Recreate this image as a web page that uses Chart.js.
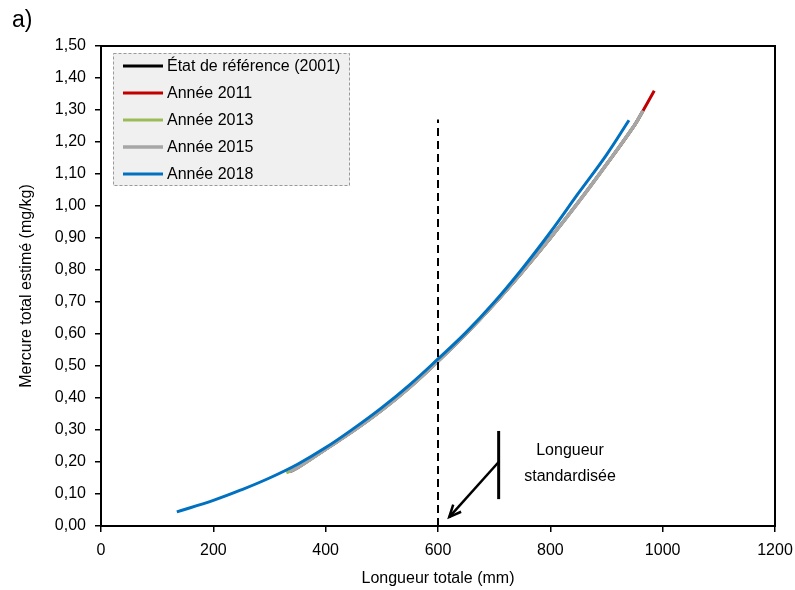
<!DOCTYPE html>
<html>
<head>
<meta charset="utf-8">
<script src="https://cdn.jsdelivr.net/npm/chart.js@4"></script>
<style>
  html, body { margin: 0; padding: 0; background: #fff; }
  #wrap { position: relative; width: 795px; height: 590px; }
  #panel { position: absolute; left: 12px; top: 6px; font: 23px "Liberation Sans", Arial, sans-serif; color: #000; }
</style>
</head>
<body>
<div id="wrap">
  <canvas id="c" width="795" height="590"></canvas>
  <div id="panel">a)</div>
</div>
<script>
// ---- Data ----
const seriesNames = ['État de référence (2001)', 'Année 2011', 'Année 2013', 'Année 2015', 'Année 2018'];
const seriesColors = ['#000000', '#c00000', '#9bbb59', '#a6a6a6', '#0070c0'];

const refX   = [336, 350, 400, 450, 500, 550, 600, 650, 700, 750, 800, 850, 900, 950, 965];
const refY   = [0.170, 0.182, 0.240, 0.298, 0.362, 0.434, 0.515, 0.601, 0.694, 0.794, 0.900, 1.012, 1.130, 1.253, 1.298];

const y2011X = [336, 350, 400, 450, 500, 550, 600, 650, 700, 750, 800, 850, 900, 950, 965, 985];
const y2011Y = [0.170, 0.182, 0.240, 0.298, 0.362, 0.434, 0.515, 0.601, 0.694, 0.794, 0.900, 1.012, 1.130, 1.253, 1.298, 1.360];

const y2013X = [330, 350, 400, 450, 500, 550, 600, 650, 700, 750, 800, 850, 900, 950, 962];
const y2013Y = [0.166, 0.182, 0.240, 0.298, 0.362, 0.434, 0.515, 0.601, 0.694, 0.794, 0.900, 1.012, 1.130, 1.253, 1.288];

const y2015X = [336, 350, 400, 450, 500, 550, 600, 650, 700, 750, 800, 850, 900, 950, 965];
const y2015Y = [0.170, 0.182, 0.240, 0.298, 0.362, 0.434, 0.515, 0.601, 0.694, 0.794, 0.900, 1.012, 1.130, 1.253, 1.298];

const y2018X = [135, 200, 250, 300, 350, 400, 450, 500, 550, 600, 650, 700, 750, 800, 850, 900, 940];
const y2018Y = [0.044, 0.080, 0.113, 0.150, 0.193, 0.245, 0.305, 0.370, 0.442, 0.522, 0.605, 0.699, 0.804, 0.918, 1.040, 1.160, 1.268];

const stdLength = 600;          // standardised length (dashed line)
const stdLineTop = 1.27;
const xTicksMax = 1200, xStep = 200;
const yTicksMax = 1.5, yStep = 0.1;

const noteText = ['Longueur', 'standardisée'];
// annotation anchor positions (data units)
const noteBarX = 708, noteBarY0 = 0.084, noteBarY1 = 0.297, noteBarMid = 0.20;
const noteArrowX = 620, noteArrowY = 0.028;
const noteTextX = 835, noteTextY = [0.235, 0.155];

const FONT = '"Liberation Sans", Arial, sans-serif';
const FS = 16;

function pts(xs, ys) { return xs.map((x, i) => ({ x: x, y: ys[i] })); }
const allX = [refX, y2011X, y2013X, y2015X, y2018X];
const allY = [refY, y2011Y, y2013Y, y2015Y, y2018Y];
const widths = [3, 3, 3, 3.5, 3];
const orders = [5, 4, 3, 2, 1];

const datasets = seriesNames.map((n, i) => ({
  label: n,
  data: pts(allX[i], allY[i]),
  borderColor: seriesColors[i],
  backgroundColor: seriesColors[i],
  borderWidth: widths[i],
  showLine: true,
  pointRadius: 0,
  tension: 0.4,
  order: orders[i]
}));
datasets.push({
  label: '__std',
  data: [{ x: stdLength, y: 0 }, { x: stdLength, y: stdLineTop }],
  borderColor: '#000',
  borderWidth: 2,
  borderDash: [8, 5],
  showLine: true,
  pointRadius: 0,
  order: 0
});

const framePlugin = {
  id: 'frame',
  afterDraw(chart) {
    const { ctx, chartArea: a, scales } = chart;
    ctx.save();
    ctx.strokeStyle = '#000';
    ctx.lineWidth = 2;
    ctx.strokeRect(a.left, a.top, a.right - a.left, a.bottom - a.top);

    // annotation
    const xs = scales.x, ys = scales.y;
    const bx = xs.getPixelForValue(noteBarX);
    ctx.lineWidth = 3;
    ctx.beginPath();
    ctx.moveTo(bx, ys.getPixelForValue(noteBarY0));
    ctx.lineTo(bx, ys.getPixelForValue(noteBarY1));
    ctx.stroke();
    const sx = bx, sy = ys.getPixelForValue(noteBarMid);
    const ex = xs.getPixelForValue(noteArrowX), ey = ys.getPixelForValue(noteArrowY);
    ctx.lineWidth = 2.5;
    ctx.beginPath();
    ctx.moveTo(sx, sy);
    ctx.lineTo(ex, ey);
    ctx.stroke();
    const ang = Math.atan2(ey - sy, ex - sx);
    const hl = 13, hw = 0.42;
    ctx.beginPath();
    ctx.moveTo(ex + hl * Math.cos(ang + Math.PI - hw), ey + hl * Math.sin(ang + Math.PI - hw));
    ctx.lineTo(ex, ey);
    ctx.lineTo(ex + hl * Math.cos(ang + Math.PI + hw), ey + hl * Math.sin(ang + Math.PI + hw));
    ctx.stroke();

    ctx.fillStyle = '#000';
    ctx.font = FS + 'px ' + FONT;
    ctx.textAlign = 'center';
    ctx.textBaseline = 'middle';
    noteText.forEach((t, i) => {
      ctx.fillText(t, xs.getPixelForValue(noteTextX), ys.getPixelForValue(noteTextY[i]));
    });

    // legend box
    const lx = a.left + 12, ly = a.top + 7, lw = 237, lh = 133;
    ctx.fillStyle = '#f0f0f0';
    ctx.fillRect(lx, ly, lw, lh);
    ctx.setLineDash([3, 2]);
    ctx.strokeStyle = '#9a9a9a';
    ctx.lineWidth = 1;
    ctx.strokeRect(lx + 0.5, ly + 0.5, lw - 1, lh - 1);
    ctx.setLineDash([]);
    ctx.textAlign = 'left';
    ctx.font = FS + 'px ' + FONT;
    seriesNames.forEach((n, i) => {
      const yy = ly + 13 + i * 27;
      ctx.strokeStyle = seriesColors[i];
      ctx.lineWidth = widths[i];
      ctx.beginPath();
      ctx.moveTo(lx + 10, yy);
      ctx.lineTo(lx + 50, yy);
      ctx.stroke();
      ctx.fillStyle = '#000';
      ctx.fillText(n, lx + 54, yy + 1);
    });
    ctx.restore();
  }
};

new Chart(document.getElementById('c'), {
  type: 'scatter',
  data: { datasets: datasets },
  plugins: [framePlugin],
  options: {
    responsive: false,
    animation: false,
    layout: { padding: { left: 0, right: 20, top: 46, bottom: 0 } },
    plugins: { legend: { display: false }, tooltip: { enabled: false } },
    scales: {
      x: {
        type: 'linear', min: 0, max: xTicksMax,
        afterFit(s) { s.height = 64; s.paddingRight = 0; s.paddingLeft = 0; },
        ticks: { stepSize: xStep, color: '#000', font: { family: FONT, size: FS }, padding: 9, maxRotation: 0,
          callback: v => String(v) },
        grid: { drawOnChartArea: false, tickLength: 6, color: '#000', lineWidth: 1.5 },
        border: { color: '#000', width: 2 },
        title: { display: true, text: 'Longueur totale (mm)', color: '#000', font: { family: FONT, size: FS }, padding: { top: 2, bottom: 2 } }
      },
      y: {
        type: 'linear', min: 0, max: yTicksMax,
        afterFit(s) { s.width = 101; s.paddingTop = 0; s.paddingBottom = 0; },
        ticks: { stepSize: yStep, color: '#000', font: { family: FONT, size: FS }, padding: 9,
          callback: v => v.toFixed(2).replace('.', ',') },
        grid: { drawOnChartArea: false, tickLength: 6, color: '#000', lineWidth: 1.5 },
        border: { color: '#000', width: 2 },
        title: { display: true, text: 'Mercure total estimé (mg/kg)', color: '#000', font: { family: FONT, size: FS }, padding: { top: 17, bottom: 4 } }
      }
    }
  }
});
</script>
</body>
</html>
